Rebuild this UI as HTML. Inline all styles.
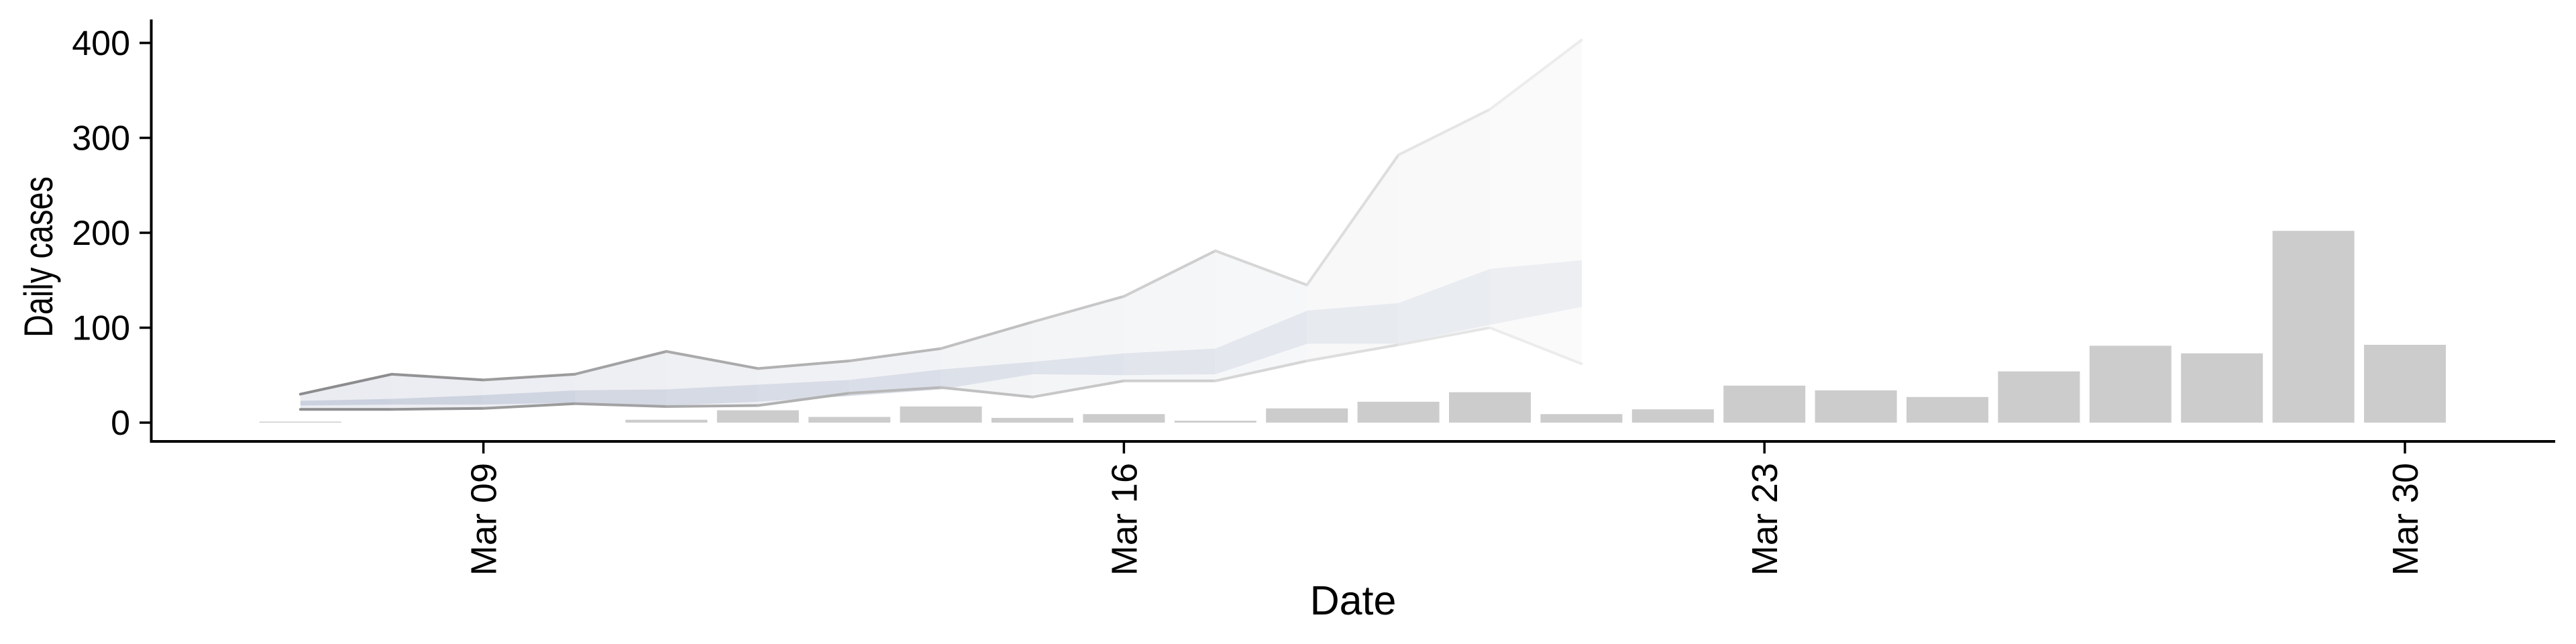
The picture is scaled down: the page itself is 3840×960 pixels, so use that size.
<!DOCTYPE html>
<html><head><meta charset="utf-8">
<style>
html,body{margin:0;padding:0;background:#fff;}
svg{display:block;font-family:"Liberation Sans",Arial,sans-serif;}
</style></head>
<body>
<svg id="chart" width="3840" height="960" viewBox="0 0 3840 960" xmlns="http://www.w3.org/2000/svg">
<g id="ribbons"></g>
<g id="bars"></g>
<g id="axes"></g>
</svg>
<script>
// ---- data ----
const barDays = [7,11,12,13,14,15,16,17,18,19,20,21,22,23,24,25,26,27,28,29,30];
const barCases = [0.5,3,13,6,17,5,9,2,15,22,32,9,14,39,34,27,54,81,73,202,82];
const ribbonDays = [7,8,9,10,11,12,13,14,15,16,17,18,19,20,21];
const outerUpper = [30,51,45,51,75,57,65,78,106,133,181,145,282,330,403];
const outerLower = [14,14,15,20,17,18,31,37,27,44,44,65,82,100,62];
const bandUpper = [23,25,29,34,35,40,45,56,64,73,78,118,126,162,171];
const bandLower = [18,19,19,21,18,22,28,35,51,50,51,83,83,103,122];
const yTicks = [0,100,200,300,400];
const xTickDays = [9,16,23,30];
const xTickLabels = ["Mar 09","Mar 16","Mar 23","Mar 30"];

// ---- scales ----
const NS = "http://www.w3.org/2000/svg";
function xs(d){ return 720.6 + (d - 9) * 136.4; }
function ys(v){ return 630 - v * 1.415; }
function mk(tag, attrs, parent){
  const e = document.createElementNS(NS, tag);
  for (const k in attrs) e.setAttribute(k, attrs[k]);
  parent.appendChild(e); return e;
}
function mix(a, b, t){
  const r = a.map((c,i)=>Math.round(c + (b[i]-c)*t));
  return "rgb(" + r.join(",") + ")";
}
const gR = document.getElementById("ribbons");
const gB = document.getElementById("bars");
const gA = document.getElementById("axes");

const n = ribbonDays.length;
for (let i = 0; i < n - 1; i++) {
  const t = i / (n - 2);
  const x0 = xs(ribbonDays[i]), x1 = xs(ribbonDays[i+1]) + 0.6;
  const outer = mk("polygon", {
    points: `${x0},${ys(outerUpper[i])} ${x1},${ys(outerUpper[i+1])} ${x1},${ys(outerLower[i+1])} ${x0},${ys(outerLower[i])}`,
    fill: mix([234,236,241],[250,250,251],t)
  }, gR);
  
  
  const band = mk("polygon", {
    points: `${x0},${ys(bandUpper[i])} ${x1},${ys(bandUpper[i+1])} ${x1},${ys(bandLower[i+1])} ${x0},${ys(bandLower[i])}`,
    fill: mix([203,209,223],[236,238,242],t)
  }, gR);
  
  
}
for (let i = 0; i < n - 1; i++) {
  const t = i / (n - 2);
  const col = mix([140,140,142],[236,236,236],t);
  const x0 = xs(ribbonDays[i]), x1 = xs(ribbonDays[i+1]);
  const up = mk("line", {x1:x0, y1:ys(outerUpper[i]), x2:x1, y2:ys(outerUpper[i+1]), stroke:col, "stroke-width":4, "stroke-linecap":"round"}, gR);
  
  
  const lo = mk("line", {x1:x0, y1:ys(outerLower[i]), x2:x1, y2:ys(outerLower[i+1]), stroke:col, "stroke-width":4, "stroke-linecap":"round"}, gR);
  
  
}

const bw = 122;
barDays.forEach((d, i) => {
  const h = Math.max(1.5, barCases[i] * 1.415);
  const r = mk("rect", {x: xs(d) - bw/2, y: ys(0) - h, width: bw, height: h, fill:"#cccccc"}, gB);
  
  
});

const yl = mk("line", {x1:225.5, y1:29, x2:225.5, y2:660, stroke:"#000", "stroke-width":4}, gA);


const xl = mk("line", {x1:223.5, y1:658, x2:3809, y2:658, stroke:"#000", "stroke-width":4}, gA);


yTicks.forEach(v => {
  const tk = mk("line", {x1:208, y1:ys(v), x2:225, y2:ys(v), stroke:"#000", "stroke-width":3.5}, gA);
  
  
  const tx = mk("text", {x:194, y:ys(v)+18, "text-anchor":"end", "font-size":52, fill:"#000"}, gA);
  tx.textContent = String(v);
  
  
});
xTickDays.forEach((d, i) => {
  const x = xs(d);
  const tk = mk("line", {x1:x, y1:660, x2:x, y2:676, stroke:"#000", "stroke-width":3.5}, gA);
  
  
  const tx = mk("text", {x:0, y:0, "text-anchor":"end", "font-size":54, fill:"#000", transform:`translate(${x+19},690) rotate(-90)`}, gA);
  tx.textContent = xTickLabels[i];
  
  
});
const xt = mk("text", {x:2017, y:916, "text-anchor":"middle", "font-size":61, fill:"#000"}, gA);
xt.textContent = "Date";


const yt = mk("text", {x:0, y:0, "text-anchor":"middle", "font-size":60, fill:"#000", textLength:240, lengthAdjust:"spacingAndGlyphs", transform:"translate(78,383) rotate(-90)"}, gA);
yt.textContent = "Daily cases";


</script>
</body></html>
